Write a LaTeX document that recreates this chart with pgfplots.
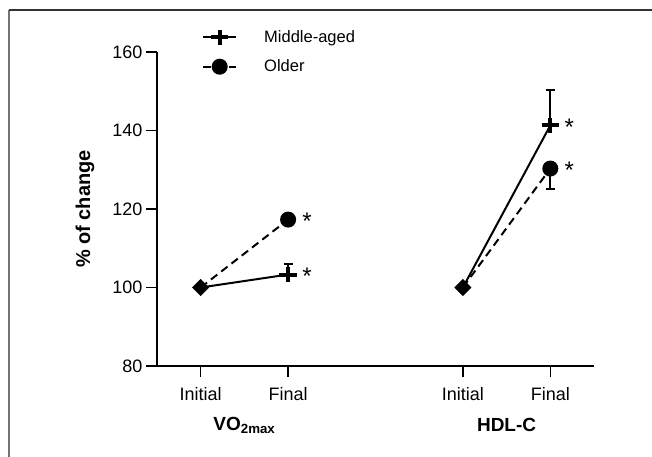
\documentclass[border=0pt]{standalone}
\usepackage{pgfplots}
\pgfplotsset{compat=1.18}
\usepackage{fontspec}
\setmainfont{Liberation Sans}

\begin{document}
\begin{tikzpicture}[x=1bp,y=1bp,
  star/.style={anchor=west, inner sep=0pt, xshift=14bp, yshift=-2bp,
    font=\fontsize{24bp}{26bp}\selectfont}]
\useasboundingbox (-157,-91) rectangle (495,366);
\draw[black!55, line width=1.3bp] (-148,-91) -- (-148,356);
\draw[black!80, line width=1.3bp] (-148,356) -- (495,356);
\begin{axis}[
  at={(0,0)}, anchor=south west,
  scale only axis, width=437bp, height=314bp,
  xmin=0.5, xmax=5.5, ymin=80, ymax=160,
  axis lines=left,
  axis line style={-, line width=1.4bp},
  xtick={1,2,4,5},
  xticklabels={Initial,Final,Initial,Final},
  ytick={80,100,...,160},
  tick align=outside,
  major tick length=11bp,
  tick style={line width=1.4bp, black},
  tick label style={font=\fontsize{18bp}{21bp}\selectfont},
  xticklabel style={yshift=-7bp},
  /pgf/number format/assume math mode=true,
  ylabel={\textbf{\% of change}},
  ylabel style={font=\fontsize{20bp}{24bp}\selectfont,
    at={(axis description cs:-0.165,0.5)}, anchor=center},
  clip=false,
  legend style={at={(axis description cs:0.103,1.0)}, anchor=west,
    draw=none, fill=none, inner sep=0pt, row sep=12bp,
    font=\fontsize{16.5bp}{20bp}\selectfont,
    /tikz/every odd column/.style={column sep=25bp}},
  legend cell align=left,
  legend image code/.code={\draw[#1] plot coordinates {(0bp,0bp) (16.5bp,0bp) (33bp,0bp)};},
  mid/.style={black, solid, line width=2bp, mark=+, mark indices={2},
    mark options={solid, line width=4bp, mark size=7.5bp, xscale=1.15},
    /pgfplots/error bars/y dir=plus, /pgfplots/error bars/y explicit,
    /pgfplots/error bars/error mark options={rotate=90, mark size=4.5bp, line width=2bp, solid},
    /pgfplots/error bars/error bar style={line width=2.2bp, solid}},
  old/.style={black, dash pattern=on 8bp off 5bp, line width=2bp, mark=*, mark indices={2},
    mark options={solid, mark size=7bp},
    /pgfplots/error bars/y dir=minus, /pgfplots/error bars/y explicit,
    /pgfplots/error bars/error mark options={rotate=90, mark size=4.5bp, line width=2bp, solid},
    /pgfplots/error bars/error bar style={line width=2.2bp, solid}},
]
\addplot[mid] table[x=x, y=y, y error=e] {
x y e
1 100 0
2 103.3 2.6
};
\addlegendentry{Middle-aged}
\addplot[old] table[x=x, y=y, y error=e] {
x y e
1 100 0
2 117.3 1.5
};
\addlegendentry{Older}
\addplot[mid, forget plot] table[x=x, y=y, y error=e] {
x y e
4 100 0
5 141.3 8.9
};
\addplot[old, forget plot] table[x=x, y=y, y error=e] {
x y e
4 100 0
5 130.3 5.1
};
\addplot[only marks, mark=square*, mark size=5.8bp, mark options={rotate=45}, black, forget plot] table {
1 100
4 100
};
\node[star] at (axis cs:2,103.3) {*};
\node[star] at (axis cs:2,117.3) {*};
\node[star] at (axis cs:5,141.3) {*};
\node[star] at (axis cs:5,130.3) {*};
\node[font=\bfseries\fontsize{19bp}{22bp}\selectfont, yshift=-59bp] at (axis cs:1.5,80) {VO\textsubscript{2max}};
\node[font=\bfseries\fontsize{19bp}{22bp}\selectfont, yshift=-59bp] at (axis cs:4.5,80) {HDL-C};
\end{axis}
\end{tikzpicture}
\end{document}
